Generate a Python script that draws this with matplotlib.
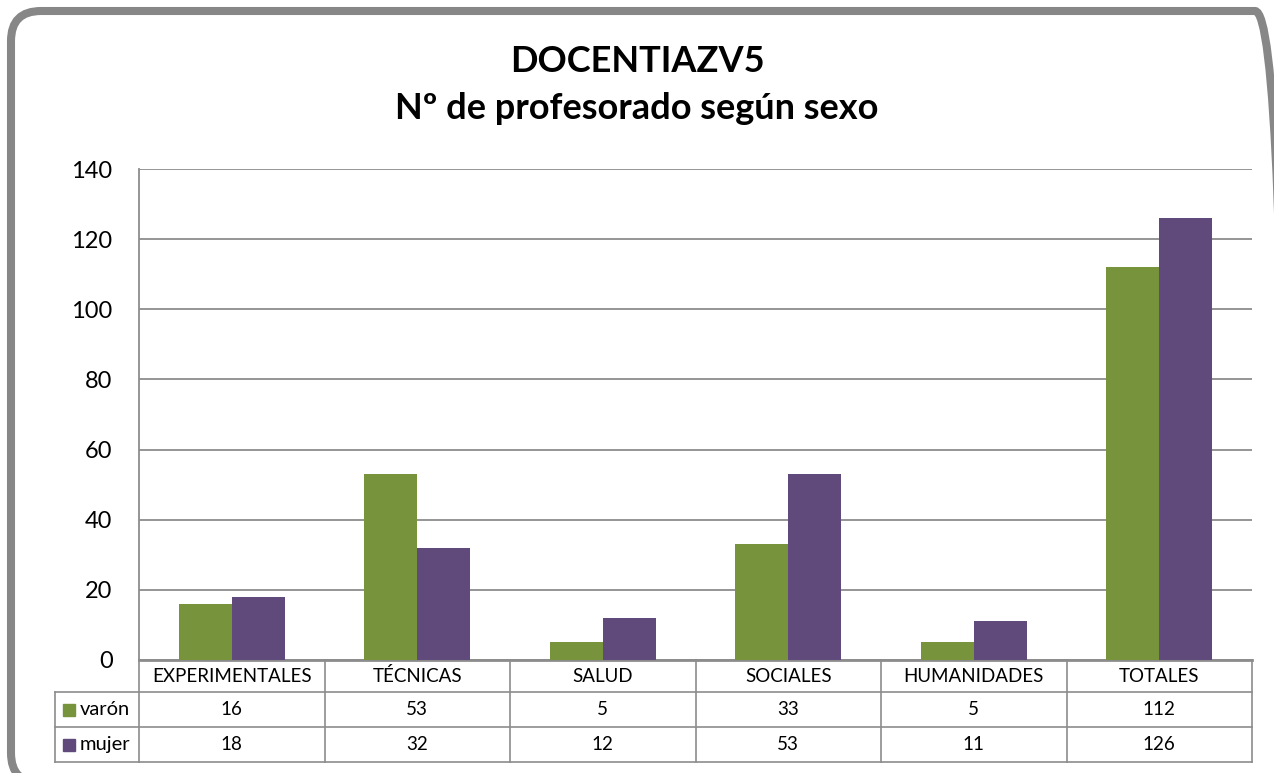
import numpy as np
import matplotlib
matplotlib.use("Agg")
import matplotlib.pyplot as plt
from matplotlib.patches import FancyBboxPatch, Rectangle
from matplotlib.transforms import blended_transform_factory

categories = ["EXPERIMENTALES", "TÉCNICAS", "SALUD", "SOCIALES", "HUMANIDADES", "TOTALES"]
varon = [16, 53, 5, 33, 5, 112]
mujer = [18, 32, 12, 53, 11, 126]
series_names = ["varón", "mujer"]
colors = ["#77933C", "#604A7B"]
title = "DOCENTIAZV5\nNº de profesorado según sexo"

plt.rcParams['font.family'] = ['Lato', 'DejaVu Sans']

W, H = 1274, 773
fig = plt.figure(figsize=(W / 100, H / 100), dpi=100)
fig.patch.set_facecolor("white")

# rounded frame, in inches so the corners stay round (cut off right/bottom)
fx0, fy0, fx1, fy1 = 11, 11, 1285, 783
frame = FancyBboxPatch((fx0 / 100, (H - fy1) / 100), (fx1 - fx0) / 100, (fy1 - fy0) / 100,
                       boxstyle="round,pad=0,rounding_size=0.30",
                       transform=fig.dpi_scale_trans, facecolor="none",
                       edgecolor="#878787", linewidth=5.8, clip_on=False)
fig.patches.append(frame)

left, right, top, bottom = 139, 1252, 169, 660
ax = fig.add_axes([left / W, 1 - bottom / H, (right - left) / W, (bottom - top) / H])

x = np.arange(len(categories))
bw = 1 / 3.5
ax.bar(x - bw / 2, varon, bw, color=colors[0], zorder=3)
ax.bar(x + bw / 2, mujer, bw, color=colors[1], zorder=3)

ax.set_xlim(-0.5, len(categories) - 0.5)
ax.set_ylim(0, 140)
ax.set_yticks(range(0, 141, 20))
ax.set_xticks([])
ax.tick_params(axis="y", length=0, labelsize=17, pad=19, colors="black")
ax.yaxis.grid(True, color="#8C8C8C", linewidth=1.3, zorder=0)
for s in ["top", "right"]:
    ax.spines[s].set_visible(False)
ax.spines["left"].set_color("#8C8C8C")
ax.spines["bottom"].set_color("#8C8C8C")
ax.spines["left"].set_linewidth(1.3)
ax.spines["bottom"].set_linewidth(2)

fig.text(0.5, 1 - 85 / H, title, ha="center", va="center", fontsize=26,
         fontweight="bold", linespacing=1.55)

# data table under the axes
axh = bottom - top
catw = (right - left) / len(categories)
tr = blended_transform_factory(ax.transData, ax.transAxes)
row_y = [0, -32 / axh, -67 / axh, -102 / axh]
xleg = -0.5 - (left - 55) / catw
lc = "#8C8C8C"
lw = 1.2
for yy in row_y[1:]:
    ax.plot([xleg, len(categories) - 0.5], [yy, yy], transform=tr, color=lc,
            lw=lw, clip_on=False)
for k in range(len(categories) + 1):
    ax.plot([k - 0.5, k - 0.5], [0, row_y[-1]], transform=tr, color=lc, lw=lw,
            clip_on=False)
ax.plot([xleg, xleg], [row_y[1], row_y[-1]], transform=tr, color=lc, lw=lw,
        clip_on=False)

for k, c in enumerate(categories):
    ax.text(k, (row_y[0] + row_y[1]) / 2, c, transform=tr, ha="center",
            va="center", fontsize=13.5)
for r, vals in enumerate([varon, mujer]):
    yc = (row_y[r + 1] + row_y[r + 2]) / 2
    for k, v in enumerate(vals):
        ax.text(k, yc, str(v), transform=tr, ha="center", va="center", fontsize=13.5)
    sq_h = 12 / axh
    ax.add_patch(Rectangle((xleg + 8 / catw, yc - sq_h / 2), 12 / catw, sq_h,
                           transform=tr, color=colors[r], clip_on=False))
    ax.text(xleg + 25 / catw, yc, series_names[r], transform=tr, ha="left",
            va="center", fontsize=14.5)

fig.savefig("out.png", dpi=100)
